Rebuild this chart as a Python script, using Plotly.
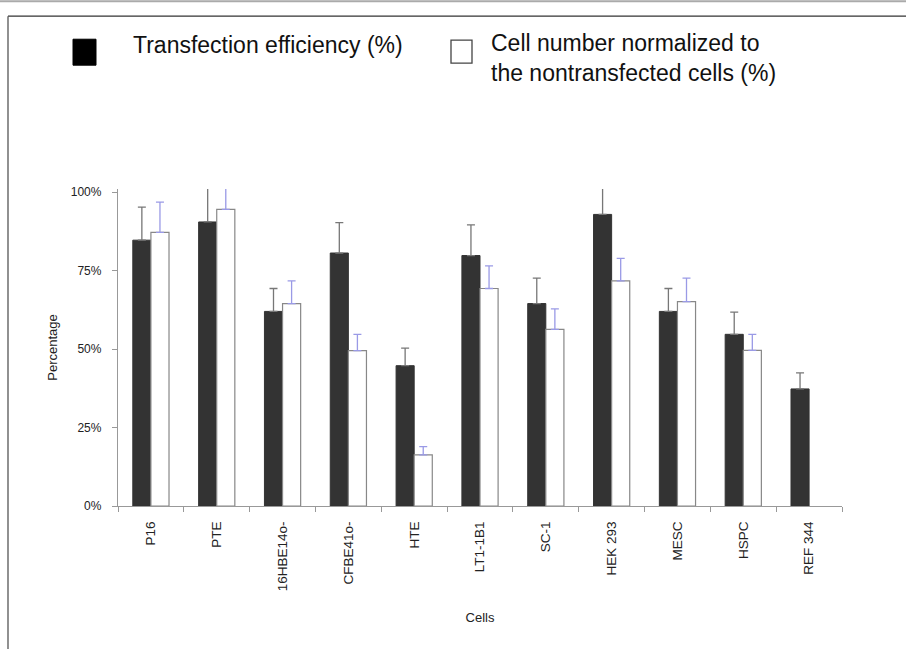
import plotly.graph_objects as go

cells = ["P16", "PTE", "16HBE14o-", "CFBE41o-", "HTE", "LT1-1B1", "SC-1",
         "HEK 293", "MESC", "HSPC", "REF 344"]
transfection = [84.7, 90.5, 62.0, 80.6, 44.7, 79.8, 64.5, 92.9, 62.0, 54.7, 37.3]
transfection_err = [10.5, 11.0, 7.3, 9.7, 5.6, 9.8, 8.1, 8.5, 7.3, 7.1, 5.1]
cellnum = [87.2, 94.5, 64.5, 49.5, 16.3, 69.3, 56.3, 71.7, 65.1, 49.6, None]
cellnum_err = [9.6, 7.0, 7.2, 5.2, 2.6, 7.2, 6.5, 7.2, 7.5, 5.1, None]
ytick_vals = [0, 25, 50, 75, 100]
ytick_text = [f"{v}%" for v in ytick_vals]

W, H = 906, 649
L, R = 118, 842
Y0, YMAX = 506, 101
PXPER = 3.14
T = Y0 - YMAX * PXPER


def px(x):
    return (x - L) / (R - L)


def py(y):
    return (Y0 - y) / (Y0 - T)


FONT = "Liberation Sans, Arial, sans-serif"

fig = go.Figure()
fig.add_trace(go.Bar(
    x=cells, y=transfection, name="Transfection efficiency (%)",
    marker=dict(color="#333333", line=dict(color="#333333", width=1)),
    error_y=dict(type="data", symmetric=False, array=transfection_err,
                 arrayminus=[0] * len(cells), color="#777777", thickness=1.3, width=4),
))
fig.add_trace(go.Bar(
    x=cells, y=cellnum, name="Cell number normalized to the nontransfected cells (%)",
    marker=dict(color="#ffffff", line=dict(color="#888888", width=1.2)),
    error_y=dict(type="data", symmetric=False, array=cellnum_err,
                 arrayminus=[0] * len(cells), color="#9a9ae6", thickness=1.3, width=4),
))

shapes = [
    dict(type="line", xref="paper", yref="paper", x0=px(0), x1=px(W), y0=py(1), y1=py(1),
         line=dict(color="#aaaaaa", width=2)),
    dict(type="line", xref="paper", yref="paper", x0=px(8), x1=px(W), y0=py(16), y1=py(16),
         line=dict(color="#333333", width=1.3)),
    dict(type="line", xref="paper", yref="paper", x0=px(8), x1=px(8), y0=py(16), y1=py(H),
         line=dict(color="#555555", width=1.3)),
    dict(type="rect", xref="paper", yref="paper", x0=px(73), x1=px(96), y0=py(65), y1=py(39),
         fillcolor="#000000", line=dict(color="#000000", width=1)),
    dict(type="rect", xref="paper", yref="paper", x0=px(451), x1=px(472), y0=py(63), y1=py(40),
         fillcolor="#ffffff", line=dict(color="#444444", width=1.3)),
]

annotations = [
    dict(xref="paper", yref="paper", x=px(131), y=py(45), xanchor="left", yanchor="middle",
         text="Transfection efficiency (%)", showarrow=False, align="left",
         font=dict(family=FONT, size=23, color="#111111")),
    dict(xref="paper", yref="paper", x=px(489), y=py(58), xanchor="left", yanchor="middle",
         text="Cell number normalized to<br>the nontransfected cells (%)", showarrow=False,
         align="left", font=dict(family=FONT, size=23, color="#111111")),
]

fig.update_layout(
    width=W, height=H,
    margin=dict(l=L, r=W - R, t=T, b=H - Y0, pad=0),
    paper_bgcolor="#ffffff", plot_bgcolor="#ffffff",
    barmode="group", bargap=0.45, bargroupgap=0,
    showlegend=False,
    shapes=shapes, annotations=annotations,
    font=dict(family=FONT, size=12, color="#222222"),
)
fig.update_xaxes(
    showline=True, linecolor="#999999", linewidth=1.3,
    ticks="outside", ticklen=5, tickcolor="#999999",
    tickson="boundaries", tickangle=-90, ticklabelstandoff=9,
    tickfont=dict(family=FONT, size=13.5, color="#222222"),
    title=dict(text="Cells", font=dict(family=FONT, size=13, color="#222222"), standoff=22),
    showgrid=False, zeroline=False,
)
fig.update_yaxes(
    range=[0, YMAX], tickvals=ytick_vals, ticktext=ytick_text,
    showline=True, linecolor="#999999", linewidth=1.3,
    ticks="outside", ticklen=5, tickcolor="#999999", ticklabelstandoff=8,
    tickfont=dict(family=FONT, size=12, color="#222222"),
    title=dict(text="Percentage", font=dict(family=FONT, size=13, color="#222222"), standoff=10),
    showgrid=False, zeroline=False,
)

fig.write_html("out.html", config={"displayModeBar": False},
               post_script="document.body.style.margin='0px';")
